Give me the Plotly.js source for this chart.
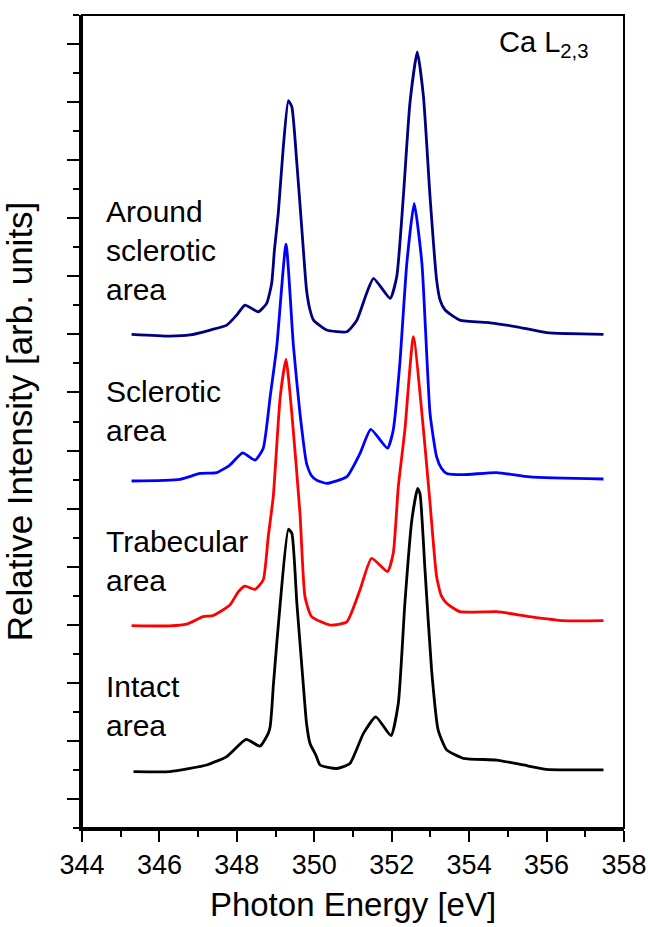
<!DOCTYPE html>
<html>
<head>
<meta charset="utf-8">
<script src="https://cdn.plot.ly/plotly-3.0.1.min.js"></script>
<style>html,body{margin:0;padding:0;background:#fff;}#chart{width:648px;height:927px;}</style>
</head>
<body>
<div id="chart"></div>
<script>
// Around sclerotic area (navy)
const aroundX = [345.28,346.27,346.79,347.31,347.74,348.0,348.21,348.55,348.77,348.9,348.97,349.07,349.2,349.33,349.42,349.55,349.68,349.8,349.89,349.98,350.32,350.84,351.1,351.35,351.53,351.96,352.13,352.3,352.47,352.66,352.82,352.99,353.16,353.25,353.38,353.76,354.54,355.23,356.0,357.47];
const aroundY = [17.0,16.94,16.98,17.15,17.32,17.67,18.01,17.78,18.07,18.76,19.9,21.18,23.46,25.05,24.84,22.89,20.6,18.53,17.84,17.49,17.15,17.09,17.49,18.41,18.93,18.24,18.99,21.74,24.96,26.73,25.19,21.74,18.87,18.18,17.84,17.49,17.4,17.26,17.06,17.0];
// Sclerotic area (blue)
const sclerX = [345.28,346.53,347.05,347.48,347.82,348.15,348.47,348.68,348.86,349.03,349.27,349.46,349.63,349.8,349.92,350.06,350.32,350.84,351.18,351.46,351.89,352.04,352.21,352.39,352.58,352.78,352.99,353.16,353.28,353.42,353.85,354.71,355.57,357.47];
const sclerY = [11.95,12.01,12.21,12.24,12.5,12.92,12.67,13.07,14.85,16.57,20.11,16.62,14.28,12.56,12.15,11.98,11.87,12.1,12.9,13.73,13.08,13.71,16.0,19.45,21.51,19.45,14.28,12.78,12.4,12.21,12.17,12.24,12.09,12.02];
// Trabecular area (red)
const trabX = [345.28,346.27,346.7,347.13,347.39,347.82,348.04,348.21,348.47,348.68,348.81,348.94,349.12,349.27,349.42,349.63,349.76,349.93,350.41,350.84,351.18,351.48,351.89,352.04,352.17,352.34,352.56,352.82,352.99,353.16,353.28,353.42,353.76,354.71,355.57,356.43,357.47];
const trabY = [6.97,6.96,7.02,7.28,7.32,7.68,8.14,8.33,8.22,8.54,10.03,11.41,14.85,16.14,14.28,10.84,7.96,7.28,6.99,7.1,8.2,9.29,8.83,9.46,11.75,13.71,16.92,13.71,11.18,8.65,8.0,7.74,7.45,7.45,7.28,7.14,7.14];
// Intact area (black)
const intactX = [345.33,346.27,346.79,347.22,347.74,348.24,348.6,348.81,348.86,348.9,348.94,349.12,349.33,349.42,349.55,349.72,349.8,349.89,350.04,350.15,350.58,350.92,351.27,351.59,351.98,352.17,352.34,352.52,352.67,352.73,352.86,353.03,353.2,353.42,353.85,354.71,355.4,356.0,357.47];
const intactY = [1.94,1.94,2.05,2.17,2.46,3.05,2.82,3.26,3.49,4.06,4.87,7.74,10.29,10.15,7.74,4.87,3.6,2.91,2.51,2.17,2.05,2.22,3.26,3.83,3.18,4.29,7.74,10.61,11.7,11.52,8.88,5.44,3.37,2.69,2.4,2.34,2.17,2.02,2.0];

const labels = ["Around<br>sclerotic<br>area", "Sclerotic<br>area", "Trabecular<br>area", "Intact<br>area"];
const labelY = [19.9, 14.36, 9.19, 4.2];

const FONT = "Arial, 'Liberation Sans', sans-serif";
function tr(x, y, c) {
  return {x: x, y: y, type: 'scatter', mode: 'lines',
    line: {color: c, width: 2.8, shape: 'spline', smoothing: 0.5}, hoverinfo: 'skip'};
}
const data = [
  tr(intactX, intactY, '#000000'),
  tr(trabX, trabY, '#ff0000'),
  tr(sclerX, sclerY, '#0000ff'),
  tr(aroundX, aroundY, '#000080')
];
const annotations = labels.map((t, i) => ({
  x: 344.56, y: labelY[i], xref: 'x', yref: 'y', text: t, showarrow: false,
  xanchor: 'left', yanchor: 'middle', align: 'left',
  font: {family: FONT, size: 30, color: '#000'}
}));
annotations.push({
  x: 354.72, y: 27.0, xref: 'x', yref: 'y', text: 'Ca L<sub>2,3</sub>', showarrow: false,
  xanchor: 'left', yanchor: 'middle', align: 'left',
  font: {family: FONT, size: 29, color: '#000'}
});
const layout = {
  width: 648, height: 927,
  margin: {l: 82, r: 24, t: 15, b: 99},
  paper_bgcolor: '#fff', plot_bgcolor: '#fff',
  showlegend: false,
  xaxis: {
    range: [344, 358], tick0: 344, dtick: 2, ticks: 'outside', ticklen: 11, tickwidth: 2,
    tickcolor: '#000', showgrid: false, zeroline: false, showline: true, linewidth: 3, linecolor: '#000',
    minor: {dtick: 1, ticks: 'outside', ticklen: 6, tickwidth: 2, tickcolor: '#000', showgrid: false},
    tickfont: {family: FONT, size: 27, color: '#000'},
    title: {text: 'Photon Energy [eV]', font: {family: FONT, size: 33, color: '#000'}, standoff: 14}
  },
  yaxis: {
    range: [0, 28], tick0: 1, dtick: 2, ticks: 'outside', ticklen: 12, tickwidth: 2,
    tickcolor: '#000', showgrid: false, zeroline: false, showline: true, linewidth: 3, linecolor: '#000',
    showticklabels: false,
    minor: {dtick: 1, tick0: 0, ticks: 'outside', ticklen: 6, tickwidth: 2, tickcolor: '#000', showgrid: false},
    title: {text: 'Relative Intensity [arb. units]', font: {family: FONT, size: 35, color: '#000'}, standoff: 26}
  },
  shapes: [{type: 'rect', xref: 'paper', yref: 'paper', x0: 0, x1: 1, y0: 0, y1: 1,
    line: {color: '#000', width: 2}, fillcolor: 'rgba(0,0,0,0)'}],
  annotations: annotations
};
Plotly.newPlot('chart', data, layout, {staticPlot: true, displayModeBar: false});
</script>
</body>
</html>
